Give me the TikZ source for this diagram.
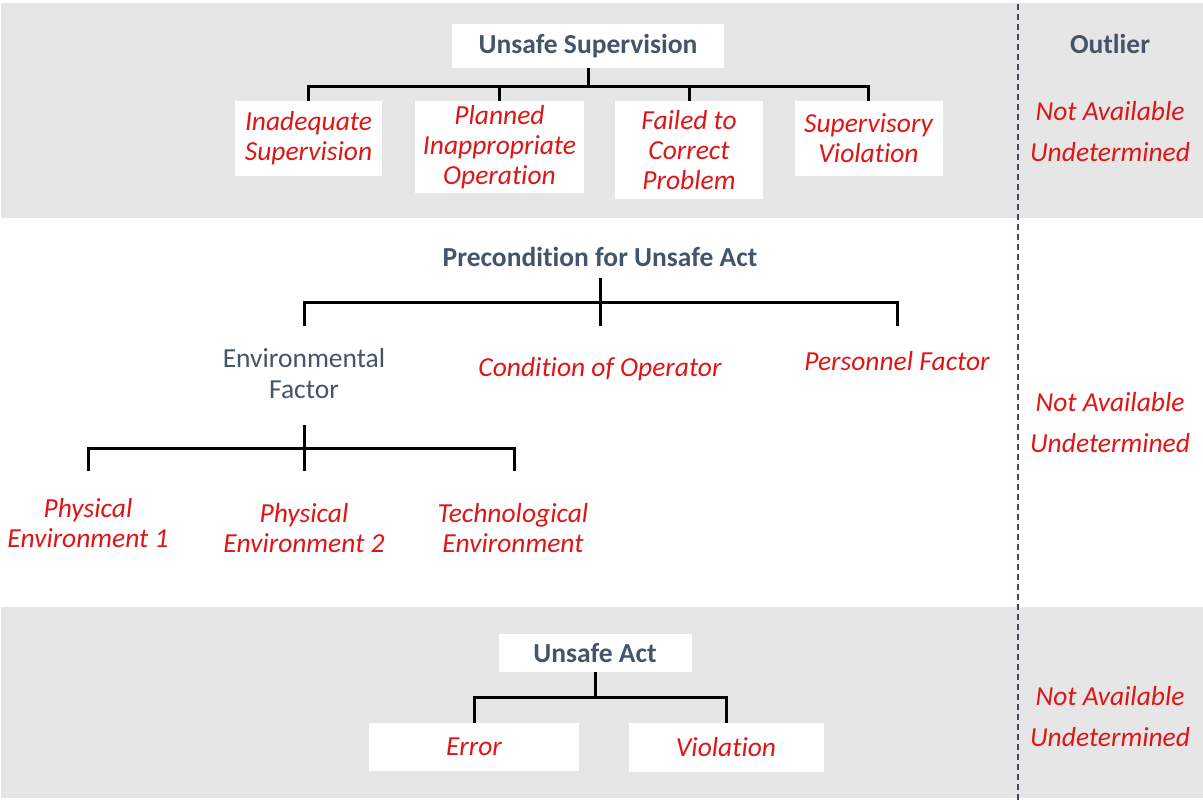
\documentclass[tikz,border=0pt]{standalone}
\usepackage{fontspec}
\setmainfont{Carlito}[Ligatures={NoCommon}]
\begin{document}
\definecolor{bandgray}{RGB}{231,230,230}
\definecolor{slate}{RGB}{68,84,106}
\definecolor{itemred}{RGB}{222,22,22}
\begin{tikzpicture}[x=1pt,y=-1pt,
  head/.style={font=\fontsize{27.5}{30}\selectfont\bfseries, text=slate, inner sep=0pt, align=center},
  item/.style={font=\fontsize{27.5}{30}\selectfont\itshape, text=itemred, inner sep=0pt, align=center},
  plain/.style={font=\fontsize{27.5}{31}\selectfont, text=slate, inner sep=0pt, align=center},
  outl/.style={font=\fontsize{27.5}{41}\selectfont\itshape, text=itemred, inner sep=0pt, align=center},
  card/.style={fill=white},
  conn/.style={line width=3pt, black},
  divider/.style={line width=2.2pt, slate!90!black, dash pattern=on 6pt off 4pt}]
\useasboundingbox (0,0) rectangle (1203,803);
\fill[white] (0,0) rectangle (1203,803);

% background bands
\fill[bandgray] (1,3) rectangle (1203,218);
\fill[bandgray] (1,607) rectangle (1203,798);

% column divider
\draw[divider] (1018,4) -- (1018,803);

% ---- Unsafe Supervision ----
\node[card, head, minimum width=272, minimum height=44] (us) at (588,46) {Unsafe Supervision};
\node[card, item, minimum width=147, minimum height=75] (inad) at (308.5,138.5) {Inadequate\\Supervision};
\node[card, item, minimum width=169, minimum height=92] (plan) at (499.5,147) {Planned\\Inappropriate\\Operation};
\node[card, item, minimum width=148, minimum height=98] (fail) at (689,150) {Failed to\\Correct\\Problem};
\node[card, item, minimum width=148, minimum height=75] (sv) at (868.5,138.5) {Supervisory\\Violation};
\coordinate (usj) at (588,86);
\draw[conn] (us.south) -- (usj);
\draw[conn] (inad.north) |- (usj) -| (sv.north);
\draw[conn] (plan.north) -- (plan.north |- usj);
\draw[conn] (fail.north) -- (fail.north |- usj);

% ---- Precondition for Unsafe Act ----
\node[head, minimum height=42] (pre) at (600,257) {Precondition for Unsafe Act};
\node[plain] (ef) at (304,373.5) {Environmental\\Factor};
\node[item] (co) at (600,369) {Condition of Operator};
\node[item] (pf) at (897,361) {Personnel Factor};
\coordinate (pj) at (600,302);
\coordinate (ef-in) at (304,326);
\coordinate (co-in) at (600,326);
\coordinate (pf-in) at (897,326);
\draw[conn] (pre.south) -- (co-in);
\draw[conn] (ef-in) |- (pj) -| (pf-in);

\node[item] (pe1) at (88,523) {Physical\\Environment 1};
\node[item] (pe2) at (304,528) {Physical\\Environment 2};
\node[item] (te) at (513,528) {Technological\\Environment};
\coordinate (ej) at (304,448);
\coordinate (ef-out) at (304,425);
\coordinate (pe1-in) at (88,471);
\coordinate (pe2-in) at (304,471);
\coordinate (te-in) at (514,471);
\draw[conn] (ef-out) -- (pe2-in);
\draw[conn] (pe1-in) |- (ej) -| (te-in);

% ---- Unsafe Act ----
\node[card, head, minimum width=193, minimum height=38] (ua) at (595,653) {Unsafe Act};
\node[card, item, minimum width=210, minimum height=48] (err) at (474,747) {Error};
\node[card, item, minimum width=195, minimum height=49] (vio) at (726,747.5) {Violation};
\coordinate (uaj) at (595,697);
\draw[conn] (ua.south) -- (uaj);
\draw[conn] (err.north) |- (uaj) -| (vio.north);

% ---- Outlier column ----
\node[head] (outlier) at (1110,44) {Outlier};
\node[outl] (o1) at (1110,131.5) {Not Available\\Undetermined};
\node[outl] (o2) at (1110,423) {Not Available\\Undetermined};
\node[outl] (o3) at (1110,717) {Not Available\\Undetermined};
\end{tikzpicture}
\end{document}
